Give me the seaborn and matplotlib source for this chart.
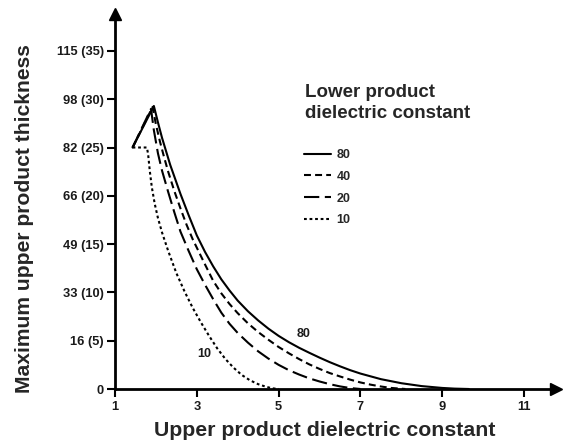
import matplotlib
matplotlib.use("Agg")
import matplotlib.pyplot as plt
from matplotlib.lines import Line2D
import seaborn as sns
import pandas as pd

# curves (x = upper product dielectric constant, y = thickness in cm)
x_80 = [1.43, 1.95, 2.05, 2.15, 2.25, 2.35, 2.45, 2.6, 2.8, 3.0, 3.2, 3.4, 3.6, 3.8, 4.0, 4.25,
        4.5, 4.75, 5.0, 5.25, 5.5, 5.75, 6.0, 6.25, 6.5, 6.75, 7.0, 7.5, 8.0, 8.5, 9.0, 9.3, 9.65]
y_80 = [25.0, 29.3, 27.6, 26.0, 24.6, 23.2, 22.0, 20.2, 18.0, 15.9, 14.2, 12.7, 11.35, 10.2, 9.15, 8.05,
        7.1, 6.25, 5.5, 4.85, 4.27, 3.75, 3.25, 2.78, 2.35, 1.95, 1.6, 1.02, 0.6, 0.3, 0.11, 0.04, 0.0]

x_40 = [1.43, 1.92, 2.0, 2.1, 2.2, 2.3, 2.45, 2.6, 2.75, 2.9, 3.05, 3.2, 3.4, 3.6, 3.8, 4.0,
        4.25, 4.5, 4.75, 5.0, 5.25, 5.5, 5.75, 6.0, 6.25, 6.5, 6.75, 7.0, 7.25, 7.5, 7.75, 8.1]
y_40 = [25.0, 29.2, 27.4, 25.6, 24.0, 22.5, 20.5, 18.7, 17.0, 15.5, 14.2, 12.9, 11.2, 9.9, 8.8, 7.85,
        6.8, 5.9, 5.1, 4.35, 3.7, 3.1, 2.55, 2.08, 1.65, 1.3, 0.97, 0.68, 0.45, 0.26, 0.11, 0.0]

x_20 = [1.43, 1.88, 1.95, 2.05, 2.15, 2.3, 2.45, 2.6, 2.8, 3.0, 3.2, 3.4, 3.6, 3.8, 4.0, 4.25,
        4.5, 4.75, 5.0, 5.25, 5.5, 5.75, 6.0, 6.25, 6.5, 6.75, 7.0]
y_20 = [25.0, 29.0, 26.8, 24.4, 22.6, 20.4, 18.3, 16.3, 14.3, 12.4, 10.8, 9.3, 7.9, 6.75, 5.8, 4.8,
        3.9, 3.15, 2.5, 1.95, 1.5, 1.1, 0.78, 0.5, 0.27, 0.1, 0.0]

x_10 = [1.43, 1.78, 1.81, 1.85, 1.9, 1.97, 2.05, 2.15, 2.3, 2.5, 2.7, 2.9, 3.1, 3.3, 3.5, 3.7,
        3.9, 4.1, 4.3, 4.5, 4.7, 4.85, 5.0]
y_10 = [25.0, 25.0, 24.3, 22.6, 20.9, 19.2, 17.7, 16.2, 14.3, 12.0, 10.1, 8.4, 6.9, 5.5, 4.2, 3.1,
        2.2, 1.45, 0.9, 0.5, 0.22, 0.07, 0.0]

lower_constants = ["80", "40", "20", "10"]
x_ticks = [1, 3, 5, 7, 9, 11]
y_ticks = [0, 5, 10, 15, 20, 25, 30, 35]
y_tick_labels = ["0", "16 (5)", "33 (10)", "49 (15)", "66 (20)", "82 (25)", "98 (30)", "115 (35)"]

frames = []
for name, xs, ys in zip(lower_constants, [x_80, x_40, x_20, x_10], [y_80, y_40, y_20, y_10]):
    frames.append(pd.DataFrame({"x": xs, "y": ys, "lower": name}))
df = pd.concat(frames, ignore_index=True)

sns.set_style("white")
plt.rcParams["font.family"] = ["Liberation Sans", "DejaVu Sans"]
plt.rcParams["font.weight"] = "bold"
plt.rcParams["lines.scale_dashes"] = False

dash_styles = {"80": "", "40": (5, 3), "20": (11, 4), "10": (2, 2)}
tick_color = "#1a1a1a"

fig = plt.figure(figsize=(5.63, 4.45), dpi=100)
ax = fig.add_axes([115 / 563, 56 / 445, 441 / 563, 375 / 445])

sns.lineplot(data=df, x="x", y="y", style="lower", style_order=lower_constants,
             dashes=dash_styles, color="black", linewidth=1.5, sort=False,
             estimator=None, legend=False, ax=ax)

ax.set_xlim(1, 1 + 441 / 40.9)
ax.set_ylim(0, 375 / 48.3 * 5)
ax.set_xticks(x_ticks)
ax.set_xticklabels([str(t) for t in x_ticks], fontsize=9.3, fontweight="bold", color=tick_color)
ax.set_yticks(y_ticks)
ax.set_yticklabels(y_tick_labels, fontsize=9.3, fontweight="bold", color=tick_color)
ax.tick_params(axis="both", direction="out", length=6, width=1.5, color="black",
               bottom=True, left=True)
ax.tick_params(axis="y", pad=2)
ax.tick_params(axis="x", pad=3)

for side in ["top", "right"]:
    ax.spines[side].set_visible(False)
for side in ["left", "bottom"]:
    ax.spines[side].set_linewidth(2)
    ax.spines[side].set_color("black")

# arrow heads at axis ends
ax.plot(1, 0, ">k", markersize=8, transform=ax.transAxes, clip_on=False)
ax.plot(0, 1, "^k", markersize=8, transform=ax.transAxes, clip_on=False)

ax.set_xlabel("Upper product dielectric constant", fontsize=15.3, fontweight="bold", va="center")
ax.xaxis.set_label_coords(0.476, -41 / 375)
ax.set_ylabel("Maximum upper product thickness", fontsize=15.2, fontweight="bold", va="center")
ax.yaxis.set_label_coords(-90 / 441, 0.455)

ax.text(5.62, 5.7, "80", fontsize=9, fontweight="bold", ha="center", va="center", color=tick_color)
ax.text(3.18, 3.6, "10", fontsize=9, fontweight="bold", ha="center", va="center", color=tick_color)

ax.text((305 - 115) / 441, (389 - 84) / 375, "Lower product\ndielectric constant",
        transform=ax.transAxes, fontsize=13.5, fontweight="bold", ha="left", va="top",
        linespacing=1.3)

handles = [Line2D([], [], color="black", linewidth=1.5,
                  linestyle="-" if dash_styles[k] == "" else (0, dash_styles[k]))
           for k in lower_constants]
ax.legend(handles, lower_constants, loc="upper left",
          bbox_to_anchor=((304 - 115) / 441, (389 - 149) / 375), frameon=False,
          prop={"weight": "bold", "size": 9}, handlelength=2.15, handletextpad=0.45,
          labelspacing=0.78, borderpad=0, borderaxespad=0)

fig.savefig("out.png", dpi=100)
